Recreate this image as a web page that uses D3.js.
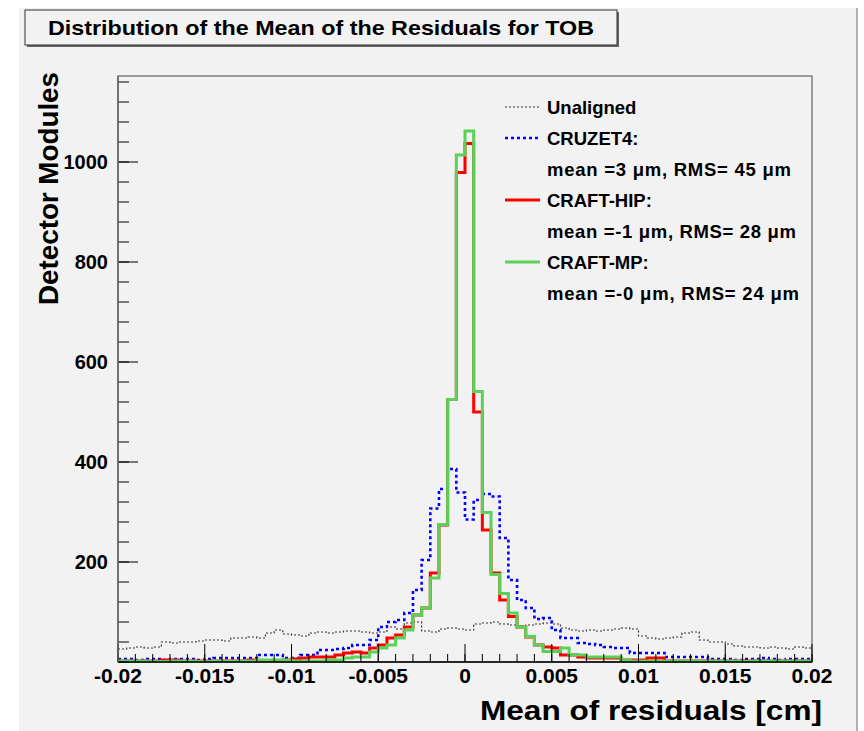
<!DOCTYPE html>
<html>
<head>
<meta charset="utf-8">
<script src="https://cdnjs.cloudflare.com/ajax/libs/d3/7.8.5/d3.min.js"></script>
<style>
  body { margin: 0; background: #fff; }
  text { font-family: "Liberation Sans", Arial, Helvetica, sans-serif; font-weight: bold; fill: #000; }
</style>
</head>
<body>
<div id="chart"></div>
<script>
// histogram binning (80 bins of 0.0005 cm)
const binLow = -0.02;
const binWidth = 0.0005;

const unaligned = [26,28,30,28,30,40,38,40,40,42, 44,44,42,48,48,50,48,58,64,56,
                   54,52,58,60,58,60,62,62,60,58, 60,70,66,78,80,62,60,66,68,66,
                   64,76,78,80,76,74,72,74,76,78, 76,68,64,62,64,62,64,66,68,66,
                   52,48,46,48,50,58,60,44,40,40, 36,32,30,30,28,30,28,26,30,28];
const cruzet4 = [6,6,4,6,6,4,6,6,6,4, 6,8,8,8,8,8,14,14,14,8,
                 8,14,14,24,24,26,28,34,34,44, 70,80,84,98,144,204,307,346,386,339,
                 285,324,336,331,248,164,124,108,86,88, 64,48,48,38,36,34,30,28,28,18,
                 18,18,18,10,10,10,10,10,6,6, 6,4,6,6,8,6,4,6,6,6];
const craftHIP = [2,2,2,2,2,4,4,2,2,2, 2,2,2,2,2,4,2,2,2,4,
                  6,8,10,10,10,14,18,20,18,28, 34,48,54,70,94,108,178,274,525,979,
                  1037,500,264,178,124,91,70,50,34,30, 28,14,14,10,8,8,8,8,4,4,
                  4,8,8,2,2,2,2,2,2,2, 2,2,2,2,2,2,2,2,2,2];
const craftMP = [2,2,2,2,1,1,2,2,2,1, 1,2,1,1,2,2,4,4,4,4,
                 2,2,2,2,4,4,8,10,10,20, 28,34,48,64,94,108,168,275,525,1014,
                 1062,541,299,175,137,98,70,51,34,21, 21,28,14,14,10,10,10,10,4,2,
                 2,2,2,1,2,2,2,1,2,2, 2,2,1,2,2,2,2,2,2,2];

const xTickValues = [-0.02,-0.015,-0.01,-0.005,0,0.005,0.01,0.015,0.02];
const xTickLabels = ["-0.02","-0.015","-0.01","-0.005","0","0.005","0.01","0.015","0.02"];
const yTickValues = [200,400,600,800,1000];
const yTickLabels = ["200","400","600","800","1000"];

const seriesNames = ["Unaligned","CRUZET4:","CRAFT-HIP:","CRAFT-MP:"];
const seriesNotes = ["", "mean =3 \u03bcm, RMS= 45 \u03bcm", "mean =-1 \u03bcm, RMS= 28 \u03bcm", "mean =-0 \u03bcm, RMS= 24 \u03bcm"];

const W = 864, H = 731;
const pLeft = 118, pRight = 812, pTop = 76, pBottom = 662;
const bg = "#f2f2f2";

let svg = d3.select("#chart").append("svg")
    .attr("width", W).attr("height", H);

// canvas
svg.append("rect").attr("x", 19).attr("y", 8).attr("width", 838).attr("height", H - 8)
    .attr("fill", bg);
svg.append("line").attr("x1", 857).attr("x2", 857).attr("y1", 8).attr("y2", H)
    .attr("stroke", "#9a9a9a").attr("stroke-width", 1.5);

let x = d3.scaleLinear().domain([-0.02, 0.02]).range([pLeft, pRight]);
let y = d3.scaleLinear().domain([0, 1172]).range([pBottom, pTop]);

// frame
svg.append("rect").attr("x", pLeft).attr("y", pTop)
    .attr("width", pRight - pLeft).attr("height", pBottom - pTop)
    .attr("fill", bg).attr("stroke", "#444").attr("stroke-width", 1);

svg.append("clipPath").attr("id", "plotclip").append("rect")
    .attr("x", pLeft).attr("y", pTop - 2).attr("width", pRight - pLeft).attr("height", pBottom - pTop + 2);

// step line from bin values
function stepPoints(vals) {
    let pts = vals.map((v, i) => [binLow + i * binWidth, v]);
    pts.push([binLow + vals.length * binWidth, vals[vals.length - 1]]);
    return pts;
}
let step = d3.line()
    .x(d => x(d[0]))
    .y(d => y(d[1]))
    .curve(d3.curveStepAfter);

let styles = [
    {data: unaligned, color: "#333", width: 1.2, dash: "2,2"},
    {data: cruzet4, color: "#0000ff", width: 2.6, dash: "3,3"},
    {data: craftHIP, color: "#ff0000", width: 3, dash: null},
    {data: craftMP, color: "#5ad25a", width: 3, dash: null}
];

let plot = svg.append("g").attr("clip-path", "url(#plotclip)");
plot.selectAll("path.hist")
    .data(styles)
    .enter()
    .append("path")
    .attr("class", "hist")
    .attr("d", d => step(stepPoints(d.data)))
    .attr("fill", "none")
    .attr("stroke", d => d.color)
    .attr("stroke-width", d => d.width)
    .attr("stroke-dasharray", d => d.dash);

// axes: x
let xMinor = d3.range(-0.02, 0.02001, 0.001);
svg.append("g").selectAll("line").data(xMinor).enter().append("line")
    .attr("x1", d => x(d)).attr("x2", d => x(d))
    .attr("y1", pBottom).attr("y2", pBottom - 8)
    .attr("stroke", "#000").attr("stroke-width", 1);
svg.append("g").selectAll("line").data(xTickValues).enter().append("line")
    .attr("x1", d => x(d)).attr("x2", d => x(d))
    .attr("y1", pBottom).attr("y2", pBottom - 18)
    .attr("stroke", "#000").attr("stroke-width", 1);
svg.append("line").attr("x1", pLeft).attr("x2", pRight).attr("y1", pBottom).attr("y2", pBottom)
    .attr("stroke", "#000").attr("stroke-width", 1.5);
svg.append("g").selectAll("text").data(xTickValues).enter().append("text")
    .attr("x", d => x(d)).attr("y", pBottom + 21)
    .attr("text-anchor", "middle")
    .style("font-size", "21px")
    .text((d, i) => xTickLabels[i]);

// axes: y
let yMinor = d3.range(0, 1171, 40);
svg.append("g").selectAll("line").data(yMinor).enter().append("line")
    .attr("x1", pLeft).attr("x2", pLeft + 11)
    .attr("y1", d => y(d)).attr("y2", d => y(d))
    .attr("stroke", "#000").attr("stroke-width", 1);
svg.append("g").selectAll("line").data(yTickValues).enter().append("line")
    .attr("x1", pLeft).attr("x2", pLeft + 20)
    .attr("y1", d => y(d)).attr("y2", d => y(d))
    .attr("stroke", "#000").attr("stroke-width", 1);
svg.append("line").attr("x1", pLeft).attr("x2", pLeft).attr("y1", pTop).attr("y2", pBottom)
    .attr("stroke", "#666").attr("stroke-width", 1.5);
svg.append("g").selectAll("text").data(yTickValues).enter().append("text")
    .attr("x", pLeft - 10).attr("y", d => y(d))
    .attr("dy", "0.36em")
    .attr("text-anchor", "end")
    .style("font-size", "20px")
    .text((d, i) => yTickLabels[i]);

// axis titles
svg.append("text")
    .attr("x", 822).attr("y", 720)
    .attr("text-anchor", "end")
    .style("font-size", "27px")
    .attr("textLength", 342).attr("lengthAdjust", "spacingAndGlyphs")
    .text("Mean of residuals [cm]");
svg.append("text")
    .attr("transform", "translate(58,72) rotate(-90)")
    .attr("text-anchor", "end")
    .style("font-size", "28px")
    .attr("textLength", 233).attr("lengthAdjust", "spacingAndGlyphs")
    .text("Detector Modules");

// title box
svg.append("rect").attr("x", 27).attr("y", 12).attr("width", 592).attr("height", 35)
    .attr("fill", "#666");
svg.append("rect").attr("x", 25).attr("y", 10).attr("width", 592).attr("height", 35)
    .attr("fill", bg).attr("stroke", "#333").attr("stroke-width", 1);
svg.append("text")
    .attr("x", 321).attr("y", 35)
    .attr("text-anchor", "middle")
    .style("font-size", "21px")
    .attr("textLength", 546).attr("lengthAdjust", "spacingAndGlyphs")
    .text("Distribution of the Mean of the Residuals for TOB");

// legend
const noteWidths = [0, 244, 249, 252];
let legendRows = [];
seriesNames.forEach((n, i) => {
    legendRows.push({label: n, s: styles[i], len: null});
    if (seriesNotes[i]) legendRows.push({label: seriesNotes[i], s: null, len: noteWidths[i]});
});
let legend = svg.selectAll(".legend")
    .data(legendRows)
    .enter()
    .append("g")
    .attr("class", "legend")
    .attr("transform", (d, i) => "translate(505," + (107 + i * 31) + ")");
legend.filter(d => d.s).append("line")
    .attr("x1", 0).attr("x2", 35).attr("y1", 0).attr("y2", 0)
    .attr("stroke", d => d.s.color)
    .attr("stroke-width", d => d.s.width)
    .attr("stroke-dasharray", d => d.s.dash);
let legendText = legend.append("text")
    .attr("x", 42).attr("y", 0).attr("dy", "0.36em")
    .style("font-size", "18.5px")
    .text(d => d.label);
legendText.filter(d => d.len)
    .attr("textLength", d => d.len)
    .attr("lengthAdjust", "spacing");
</script>
</body>
</html>
